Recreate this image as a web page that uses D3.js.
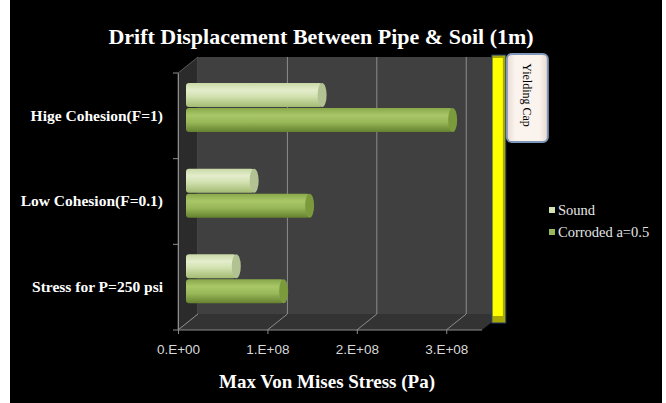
<!DOCTYPE html>
<html lang="en">
<head>
    <meta charset="UTF-8">
    <title>Drift Displacement Between Pipe & Soil</title>
    <script src="https://cdn.jsdelivr.net/npm/d3@7/dist/d3.min.js"></script>
    <style>
        body { margin: 0; background: #fff; }
        svg { display: block; }
    </style>
</head>
<body>
    <script>
        //data
        var categories = ['Hige Cohesion(F=1)', 'Low Cohesion(F=0.1)', 'Stress for P=250 psi'];
        var series = ['Sound', 'Corroded a=0.5'];
        var sound = [1.50e8, 0.74e8, 0.54e8];
        var corroded = [2.96e8, 1.36e8, 1.07e8];
        var xTicks = [0, 1e8, 2e8, 3e8];
        var yieldCap = 3.51e8;

        var w = 666;
        var h = 403;

        //3d box
        var fx = 178, fTop = 73, fBottom = 330;
        var ddx = 20, ddy = -16;

        var svg = d3.select('body')
                    .append('svg')
                    .attr('width', w)
                    .attr('height', h);

        var defs = svg.append('defs');

        function grad(id, stops) {
            var g = defs.append('linearGradient')
                .attr('id', id)
                .attr('x1', 0).attr('y1', 0).attr('x2', 0).attr('y2', 1);
            stops.forEach(function(s) {
                g.append('stop').attr('offset', s[0]).attr('stop-color', s[1]);
            });
        }
        grad('gSound', [[0, '#c9d9a6'], [0.3, '#e4edcc'], [0.55, '#d3e2b1'], [1, '#a3bb72']]);
        grad('gCorr', [[0, '#88a84a'], [0.3, '#a9c767'], [0.6, '#97b758'], [1, '#65812f']]);

        var capGrad = defs.append('linearGradient')
            .attr('id', 'gCap').attr('x1', 0).attr('y1', 0).attr('x2', 1).attr('y2', 0);
        capGrad.append('stop').attr('offset', 0).attr('stop-color', '#e9d9cf');
        capGrad.append('stop').attr('offset', 0.2).attr('stop-color', '#fbf3ee');
        capGrad.append('stop').attr('offset', 0.8).attr('stop-color', '#fbf3ee');
        capGrad.append('stop').attr('offset', 1).attr('stop-color', '#e9d9cf');

        //black background
        svg.append('rect')
            .attr('x', 10).attr('y', 0)
            .attr('width', 652).attr('height', h)
            .attr('fill', '#000');

        //scales
        var xScale = d3.scaleLinear()
                        .domain([0, 3.4e8])
                        .range([0, 304]);

        var yScale = d3.scaleBand()
                        .domain(categories)
                        .range([fTop, fBottom]);

        var inner = d3.scaleBand()
                        .domain(series)
                        .range([18, 67])
                        .paddingInner(0.04);

        var xEnd = xScale(3.4e8);

        //walls
        svg.append('polygon')
            .attr('points', [[fx, fTop], [fx + ddx, fTop + ddy], [fx + ddx, fBottom + ddy], [fx, fBottom]].join(' '))
            .attr('fill', '#2b2b2b')
            .attr('stroke', '#6a6a6a')
            .attr('stroke-width', 0.8);

        svg.append('rect')
            .attr('x', fx + ddx).attr('y', fTop + ddy)
            .attr('width', xEnd).attr('height', fBottom - fTop)
            .attr('fill', '#404040');

        svg.append('polygon')
            .attr('points', [[fx, fBottom], [fx + ddx, fBottom + ddy], [fx + ddx + xEnd, fBottom + ddy], [fx + xEnd, fBottom]].join(' '))
            .attr('fill', '#333333');

        //gridlines
        svg.selectAll('line.grid')
            .data(xTicks.slice(1))
            .enter()
            .append('line')
            .attr('class', 'grid')
            .attr('x1', function(d) { return fx + ddx + xScale(d); })
            .attr('x2', function(d) { return fx + ddx + xScale(d); })
            .attr('y1', fTop + ddy)
            .attr('y2', fBottom + ddy)
            .attr('stroke', '#8c8c8c')
            .attr('stroke-width', 1);

        svg.selectAll('line.floor')
            .data(xTicks)
            .enter()
            .append('line')
            .attr('class', 'floor')
            .attr('x1', function(d) { return fx + xScale(d); })
            .attr('x2', function(d) { return fx + ddx + xScale(d); })
            .attr('y1', fBottom)
            .attr('y2', fBottom + ddy)
            .attr('stroke', '#8c8c8c')
            .attr('stroke-width', 1);

        //bars (cylinders at mid depth)
        var bx = fx + ddx / 2;
        var by = ddy / 2;
        var rows = [];
        categories.forEach(function(c, i) {
            rows.push({ cat: c, s: 'Sound', v: sound[i], fill: 'url(#gSound)', cap: '#b2c293' });
            rows.push({ cat: c, s: 'Corroded a=0.5', v: corroded[i], fill: 'url(#gCorr)', cap: '#7a9a3c' });
        });

        var bars = svg.selectAll('g.bar')
            .data(rows)
            .enter()
            .append('g')
            .attr('class', 'bar');

        bars.append('rect')
            .attr('x', bx - 2)
            .attr('y', function(d) { return yScale(d.cat) + by + inner(d.s); })
            .attr('width', function(d) { return xScale(d.v) + 2; })
            .attr('height', inner.bandwidth())
            .attr('rx', 3)
            .attr('fill', function(d) { return d.fill; });

        bars.append('ellipse')
            .attr('cx', function(d) { return bx + xScale(d.v); })
            .attr('cy', function(d) { return yScale(d.cat) + by + inner(d.s) + inner.bandwidth() / 2; })
            .attr('rx', 4.5)
            .attr('ry', inner.bandwidth() / 2)
            .attr('fill', function(d) { return d.cap; });

        //axes
        var xAxis = d3.axisBottom(xScale)
                        .tickValues(xTicks)
                        .tickSize(4)
                        .tickPadding(10)
                        .tickFormat(function(d) {
                            if (d === 0) return '0.E+00';
                            var e = Math.floor(Math.log10(d));
                            return Math.round(d / Math.pow(10, e)) + '.E+' + (e < 10 ? '0' + e : e);
                        });

        var gx = svg.append('g')
            .attr('transform', 'translate(' + fx + ',' + fBottom + ')')
            .call(xAxis);
        gx.select('.domain').attr('stroke', '#8c8c8c').attr('d', 'M0,0H' + xEnd);
        gx.selectAll('.tick line').attr('stroke', '#8c8c8c');
        gx.selectAll('.tick text')
            .attr('fill', '#d9d9d9')
            .attr('font-family', 'Liberation Sans, sans-serif')
            .attr('font-size', '13.5px');

        var yAxis = d3.axisLeft(yScale).tickSize(0).tickPadding(15);
        var gy = svg.append('g')
            .attr('transform', 'translate(' + fx + ',0)')
            .call(yAxis);
        gy.select('.domain').attr('stroke', '#8c8c8c');
        gy.selectAll('.tick text')
            .attr('fill', '#fff')
            .attr('font-family', 'Liberation Serif, serif')
            .attr('font-weight', 'bold')
            .attr('font-size', '15.5px');

        //category boundary ticks
        svg.selectAll('line.ytick')
            .data(categories.slice(1).concat(['end']))
            .enter()
            .append('line')
            .attr('class', 'ytick')
            .attr('x1', fx - 5).attr('x2', fx)
            .attr('y1', function(d) { return d === 'end' ? fBottom : yScale(d); })
            .attr('y2', function(d) { return d === 'end' ? fBottom : yScale(d); })
            .attr('stroke', '#8c8c8c');
        svg.append('line')
            .attr('x1', fx - 5).attr('x2', fx)
            .attr('y1', fTop).attr('y2', fTop)
            .attr('stroke', '#8c8c8c');

        //yielding cap bar
        var yx = fx + xScale(yieldCap);
        svg.append('rect')
            .attr('x', yx).attr('y', 55)
            .attr('width', 14).attr('height', 268)
            .attr('fill', '#a8a800')
            .attr('stroke', '#1f3b73')
            .attr('stroke-width', 1);
        svg.append('rect')
            .attr('x', yx + 1).attr('y', 58)
            .attr('width', 10).attr('height', 258)
            .attr('fill', '#ffff00');

        svg.append('rect')
            .attr('x', yx + 15).attr('y', 54)
            .attr('width', 41).attr('height', 88)
            .attr('rx', 5)
            .attr('fill', 'url(#gCap)')
            .attr('stroke', '#7f97b8')
            .attr('stroke-width', 2);

        svg.append('text')
            .attr('transform', 'translate(' + (yx + 35) + ',95) rotate(90)')
            .attr('text-anchor', 'middle')
            .attr('dy', '0.35em')
            .attr('font-family', 'Liberation Serif, serif')
            .attr('font-size', '12px')
            .attr('fill', '#000')
            .text('Yielding Cap');

        //legend
        var legend = svg.selectAll('g.legend')
            .data(series)
            .enter()
            .append('g')
            .attr('class', 'legend')
            .attr('transform', function(d, i) { return 'translate(549,' + (210 + i * 22) + ')'; });

        legend.append('rect')
            .attr('x', 0).attr('y', -3)
            .attr('width', 6).attr('height', 6)
            .attr('fill', function(d, i) { return i === 0 ? '#d3e2b1' : '#97b758'; });

        legend.append('text')
            .attr('x', 9)
            .attr('dy', '0.35em')
            .attr('font-family', 'Liberation Serif, serif')
            .attr('font-size', '14.5px')
            .attr('fill', '#e6e6e6')
            .text(function(d) { return d; });

        //titles
        svg.append('text')
            .attr('x', 321).attr('y', 44)
            .attr('text-anchor', 'middle')
            .attr('font-family', 'Liberation Serif, serif')
            .attr('font-weight', 'bold')
            .attr('font-size', '22px')
            .attr('fill', '#fff')
            .text('Drift Displacement Between Pipe & Soil (1m)');

        svg.append('text')
            .attr('x', 327).attr('y', 388)
            .attr('text-anchor', 'middle')
            .attr('font-family', 'Liberation Serif, serif')
            .attr('font-weight', 'bold')
            .attr('font-size', '19px')
            .attr('fill', '#fff')
            .text('Max Von Mises Stress (Pa)');
    </script>
</body>
</html>
